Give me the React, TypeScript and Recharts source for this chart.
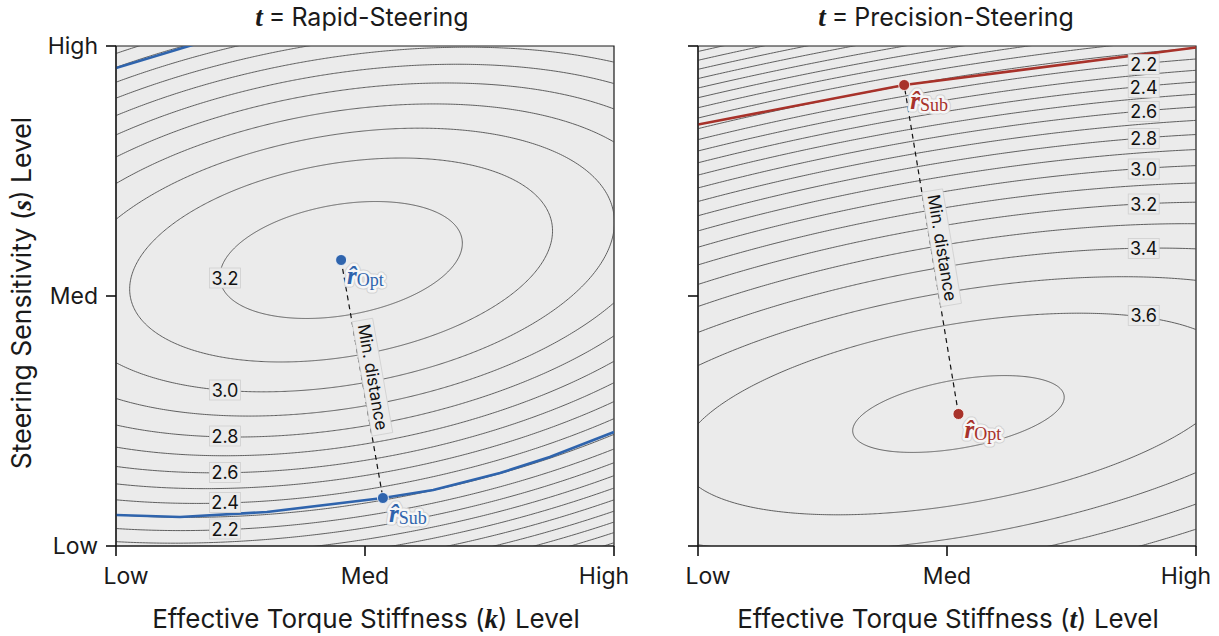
import React from "react";
import {
  ComposedChart,
  Line,
  XAxis,
  YAxis,
  CartesianGrid,
  ReferenceDot,
  ReferenceArea,
} from "recharts";

// axis ticks (same on both panels)
const tickValues = [0, 0.5, 1];
const tickNames = ["Low", "Med", "High"];

// contour levels drawn in each panel (step 0.1)
const leftLevels = [
  1.0, 1.1, 1.2, 1.3, 1.4, 1.5, 1.6, 1.7, 1.8, 1.9, 2.0, 2.1, 2.2, 2.3, 2.4,
  2.5, 2.6, 2.7, 2.8, 2.9, 3.0, 3.1, 3.2,
];
const rightLevels = [
  1.0, 1.1, 1.2, 1.3, 1.4, 1.5, 1.6, 1.7, 1.8, 1.9, 2.0, 2.1, 2.2, 2.3, 2.4,
  2.5, 2.6, 2.7, 2.8, 2.9, 3.0, 3.1, 3.2, 3.3, 3.4, 3.5, 3.6, 3.7,
];

// surrogate surface: peak + quadratic curvature [xx, xy, yy]
const leftPeak = { x: 0.452, y: 0.572, value: 3.249 };
const leftCurvature = [0.9, -0.535, 3.9];
const rightPeak = { x: 0.523, y: 0.264, value: 3.717 };
const rightCurvature = [0.4649, -0.5587, 3.55];

// inline contour labels
const leftLabelValues = ["3.2", "3.0", "2.8", "2.6", "2.4", "2.2"];
const leftLabelX = [0.219, 0.219, 0.219, 0.219, 0.219, 0.219];
const leftLabelY = [0.536, 0.312, 0.22, 0.147, 0.087, 0.034];

const rightLabelValues = ["2.2", "2.4", "2.6", "2.8", "3.0", "3.2", "3.4", "3.6"];
const rightLabelX = [0.895, 0.895, 0.895, 0.895, 0.895, 0.895, 0.895, 0.895];
const rightLabelY = [0.963, 0.917, 0.869, 0.815, 0.754, 0.684, 0.595, 0.461];

// feasible boundary curves
const leftBoundX = [0, 0.1285, 0.303, 0.536, 0.637, 0.771, 0.871, 1.0];
const leftBoundY = [0.062, 0.058, 0.068, 0.096, 0.112, 0.146, 0.178, 0.228];
const leftBoundTopX = [0, 0.16];
const leftBoundTopY = [0.956, 1.004];
const rightBoundX = [0, 0.414, 1.0];
const rightBoundY = [0.843, 0.922, 0.997];

// optimum / closest feasible points
const leftOpt = { x: 0.452, y: 0.572 };
const leftSub = { x: 0.536, y: 0.096 };
const rightOpt = { x: 0.523, y: 0.264 };
const rightSub = { x: 0.414, y: 0.922 };

const SANS = "Inter, 'Liberation Sans', sans-serif";
const SERIF = "'Liberation Serif', 'DejaVu Serif', serif";
const BLUE = "#2f64ad";
const RED = "#a8322a";
const PLOT_W = 498;
const PLOT_H = 500;

const zip = (xs: number[], ys: number[]) => xs.map((x, i) => ({ x, y: ys[i] }));

// one closed contour ring of the quadratic surface
function ring(peak: any, c: number[], level: number) {
  const k = peak.value - level;
  const pts = [];
  const n = 900;
  for (let i = 0; i <= n; i++) {
    const t = (i / n) * Math.PI * 2;
    const cs = Math.cos(t);
    const sn = Math.sin(t);
    const q = c[0] * cs * cs + 2 * c[1] * cs * sn + c[2] * sn * sn;
    const r = Math.sqrt(k / q);
    pts.push({ x: peak.x + r * cs, y: peak.y + r * sn });
  }
  return pts;
}

const XTick = (p: any) => {
  const i = tickValues.indexOf(p.payload.value);
  const shift = i === 0 ? 10 : i === 2 ? -10 : 0;
  return (
    <text x={p.x + shift} y={p.y + 26} textAnchor="middle" fontSize={23} fontFamily={SANS} fill="#1a1a1a">
      {tickNames[i]}
    </text>
  );
};

const YTick = (p: any) => {
  const i = tickValues.indexOf(p.payload.value);
  return (
    <text x={p.x - 6} y={p.y + 8} textAnchor="end" fontSize={23} fontFamily={SANS} fill="#1a1a1a">
      {tickNames[i]}
    </text>
  );
};

const NoTick = () => <g />;

const levelBox = (text: string) => (p: any) => (
  <g>
    <rect x={p.cx - 15.5} y={p.cy - 10} width={31} height={20} fill="#ebebeb" stroke="#cfcfcf" strokeWidth={0.8} />
    <text x={p.cx} y={p.cy + 6.5} textAnchor="middle" fontSize={18} fontFamily={SANS} fill="#111">
      {text}
    </text>
  </g>
);

const pointMark = (color: string, sub: string) => (p: any) => {
  const label = (extra: any) => (
    <text x={p.cx + 6} y={p.cy + 24} {...extra}>
      <tspan fontFamily={SERIF} fontStyle="italic" fontWeight="bold" fontSize={25}>
        {"r\u0302"}
      </tspan>
      <tspan fontFamily={SERIF} fontSize={18} dy={2}>
        {sub}
      </tspan>
    </text>
  );
  return (
    <g>
      <circle cx={p.cx} cy={p.cy} r={5.5} fill={color} stroke="#fff" strokeWidth={0.8} />
      {label({ fill: "none", stroke: "#d2d2d2", strokeWidth: 7, strokeLinejoin: "round" })}
      {label({ fill: "none", stroke: "#f6f6f6", strokeWidth: 5, strokeLinejoin: "round" })}
      {label({ fill: color })}
    </g>
  );
};

const distLabel = (a: any, b: any) => (p: any) => {
  let dx = (b.x - a.x) * PLOT_W;
  let dy = -(b.y - a.y) * PLOT_H;
  if (dy < 0) {
    dx = -dx;
    dy = -dy;
  }
  const ang = (Math.atan2(dy, dx) * 180) / Math.PI;
  return (
    <g transform={`translate(${p.cx},${p.cy}) rotate(${ang})`}>
      <rect x={-58} y={-21} width={116} height={21} fill="#ebebeb" stroke="#cfcfcf" strokeWidth={0.8} />
      <text x={0} y={-5} textAnchor="middle" fontSize={17} fontFamily={SANS} fill="#111">
        Min. distance
      </text>
    </g>
  );
};

function Panel({ levels, peak, curv, lx, ly, lv, bounds, color, opt, sub, yLabels }: any) {
  return (
    <ComposedChart width={634} height={636} margin={{ top: 46, right: 20, left: 56, bottom: 50 }}>
      <CartesianGrid horizontal={false} vertical={false} fill="#ebebeb" />
      <XAxis
        type="number"
        dataKey="x"
        domain={[0, 1]}
        ticks={tickValues}
        allowDataOverflow
        height={40}
        tickSize={10}
        tick={XTick}
        axisLine={{ stroke: "#1a1a1a", strokeWidth: 1.2 }}
        tickLine={{ stroke: "#111", strokeWidth: 1.6 }}
      />
      <YAxis
        type="number"
        dataKey="y"
        domain={[0, 1]}
        ticks={tickValues}
        allowDataOverflow
        width={60}
        tickSize={10}
        tick={yLabels ? YTick : NoTick}
        axisLine={{ stroke: "#1a1a1a", strokeWidth: 1.2 }}
        tickLine={{ stroke: "#111", strokeWidth: 1.6 }}
      />
      {levels.map((lev: number) => (
        <Line
          key={`c-${lev}`}
          data={ring(peak, curv, lev)}
          dataKey="y"
          stroke="#4f4f4f"
          strokeWidth={0.9}
          dot={false}
          activeDot={false}
          type="linear"
          isAnimationActive={false}
        />
      ))}
      {bounds.map((b: any, i: number) => (
        <Line
          key={`b-${i}`}
          data={b}
          dataKey="y"
          stroke={color}
          strokeWidth={2.6}
          dot={false}
          activeDot={false}
          type="linear"
          isAnimationActive={false}
        />
      ))}
      <Line
        data={[opt, sub]}
        dataKey="y"
        stroke="#111"
        strokeWidth={1.2}
        strokeDasharray="5 4"
        dot={false}
        activeDot={false}
        isAnimationActive={false}
      />
      <ReferenceArea x1={0} x2={1} y1={0} y2={1} fill="none" stroke="#1a1a1a" strokeWidth={1.2} />
      {lv.map((t: string, i: number) => (
        <ReferenceDot key={`l-${t}`} x={lx[i]} y={ly[i]} r={1} shape={levelBox(t)} />
      ))}
      <ReferenceDot x={(opt.x + sub.x) / 2} y={(opt.y + sub.y) / 2} r={1} shape={distLabel(opt, sub)} />
      <ReferenceDot x={opt.x} y={opt.y} r={5} shape={pointMark(color, "Opt")} />
      <ReferenceDot x={sub.x} y={sub.y} r={5} shape={pointMark(color, "Sub")} />
    </ComposedChart>
  );
}

const MathVar = ({ v, size }: { v: string; size: number }) => (
  <tspan fontFamily={SERIF} fontStyle="italic" fontWeight="bold" fontSize={size}>
    {v}
  </tspan>
);

export default function App() {
  return (
    <div
      style={{
        position: "absolute",
        left: 0,
        top: 0,
        width: 1219,
        height: 636,
        overflow: "hidden",
        background: "#fff",
      }}
    >
      <div style={{ position: "absolute", left: 0, top: 0 }}>
        <Panel
          levels={leftLevels}
          peak={leftPeak}
          curv={leftCurvature}
          lx={leftLabelX}
          ly={leftLabelY}
          lv={leftLabelValues}
          bounds={[zip(leftBoundX, leftBoundY), zip(leftBoundTopX, leftBoundTopY)]}
          color={BLUE}
          opt={leftOpt}
          sub={leftSub}
          yLabels
        />
      </div>
      <div style={{ position: "absolute", left: 582, top: 0 }}>
        <Panel
          levels={rightLevels}
          peak={rightPeak}
          curv={rightCurvature}
          lx={rightLabelX}
          ly={rightLabelY}
          lv={rightLabelValues}
          bounds={[zip(rightBoundX, rightBoundY)]}
          color={RED}
          opt={rightOpt}
          sub={rightSub}
          yLabels={false}
        />
      </div>
      <svg width={1219} height={636} style={{ position: "absolute", left: 0, top: 0, pointerEvents: "none" }}>
        <text x={362} y={26} textAnchor="middle" fontSize={25} fontFamily={SANS} fill="#1a1a1a">
          <MathVar v="t" size={27} />
          <tspan dx={6}>=</tspan>
          <tspan dx={6}>Rapid-Steering</tspan>
        </text>
        <text x={946} y={26} textAnchor="middle" fontSize={25} fontFamily={SANS} fill="#1a1a1a">
          <MathVar v="t" size={27} />
          <tspan dx={6}>=</tspan>
          <tspan dx={6}>Precision-Steering</tspan>
        </text>
        <text x={366} y={628} textAnchor="middle" fontSize={26} fontFamily={SANS} fill="#1a1a1a">
          Effective Torque Stiffness (<MathVar v="k" size={27} />) Level
        </text>
        <text x={948} y={628} textAnchor="middle" fontSize={26} fontFamily={SANS} fill="#1a1a1a">
          Effective Torque Stiffness (<MathVar v="t" size={27} />) Level
        </text>
        <text
          transform="translate(31,293) rotate(-90)"
          textAnchor="middle"
          fontSize={26.5}
          fontFamily={SANS}
          fill="#1a1a1a"
        >
          Steering Sensitivity (<MathVar v="s" size={27} />) Level
        </text>
      </svg>
    </div>
  );
}
